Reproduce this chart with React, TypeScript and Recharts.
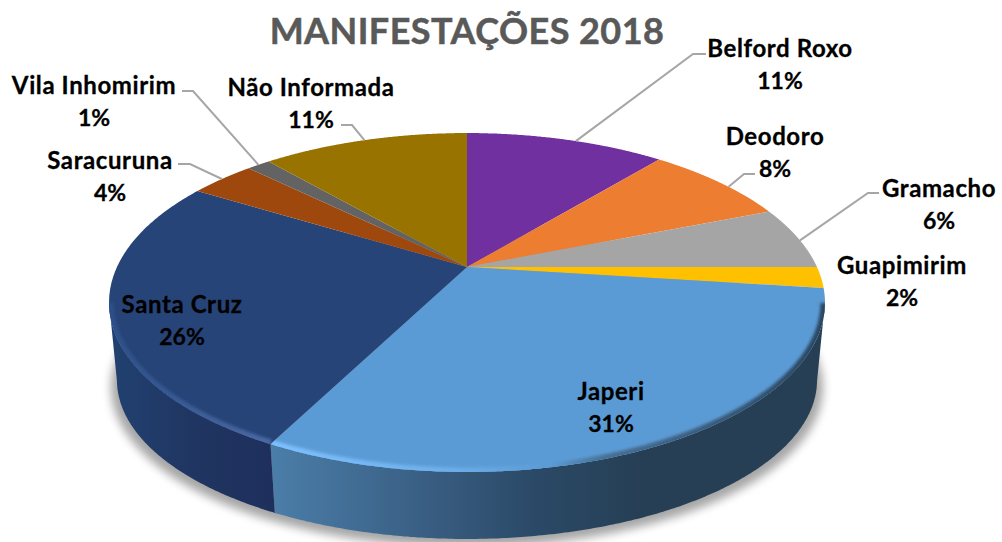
import { PieChart, Pie } from 'recharts';

const names = ['Belford Roxo', 'Deodoro', 'Gramacho', 'Guapimirim', 'Japeri', 'Santa Cruz', 'Saracuruna', 'Vila Inhomirim', 'Não Informada'];
const shares = [11, 8, 6, 2, 30.55, 26.15, 3.6, 1.3, 11.4];
const colors = ['#7030A0', '#ED7D31', '#A5A5A5', '#FFC000', '#5B9BD5', '#264478', '#9E480E', '#636363', '#997300'];

const data = names.map((name, i) => ({ name, value: shares[i], fill: colors[i] }));

// text block centre, and the elbow of the leader line (if any)
const labelSpots: Record<string, { x: number; y: number; elbow?: number[][]; nudge?: number }> = {
  'Belford Roxo': { x: 780, y: 47, elbow: [[693, 54], [706, 54]], nudge: 2 },
  Deodoro: { x: 775, y: 135, elbow: [[744, 174], [755, 174]], nudge: 2.5 },
  Gramacho: { x: 939, y: 187, elbow: [[868, 193], [879, 193]], nudge: 1 },
  Guapimirim: { x: 902, y: 264 },
  Japeri: { x: 611, y: 390 },
  'Santa Cruz': { x: 182, y: 303 },
  Saracuruna: { x: 110, y: 159, elbow: [[190, 164], [178, 164]] },
  'Vila Inhomirim': { x: 94, y: 84, elbow: [[193, 91], [182, 91]] },
  'Não Informada': { x: 311, y: 86, elbow: [[352, 125], [341, 125]] },
};

const FONT = 'Lato, "Open Sans", sans-serif';
const CX = 467;
const CY = 267;
const RADIUS = 350;
const SQUASH = 0.4629; // tilt of the disc
const K = 0.2095; // perspective strength

// circle -> tilted disc
function project(cx: number, cy: number, r: number, deg: number) {
  const a = (deg * Math.PI) / 180;
  const w = 1 / (1 + K * Math.sin(a));
  return [cx + r * Math.cos(a) * w, cy - r * SQUASH * Math.sin(a) * w];
}

// top rim -> bottom rim of the side wall
function drop(p: number[]) {
  return [CX + 0.978 * (p[0] - CX), 380 + 0.938 * (p[1] - 302.5)];
}

const toPath = (pts: number[][]) => pts.map((p, i) => `${i ? 'L' : 'M'}${p[0].toFixed(1)} ${p[1].toFixed(1)}`).join(' ');

const wallFill: Record<string, string> = { Japeri: 'url(#wallJaperi)', 'Santa Cruz': 'url(#wallSanta)' };
const rimStroke: Record<string, string> = { Japeri: 'url(#rimJaperi)', 'Santa Cruz': 'url(#rimSanta)' };

function DiscSlice(props: any) {
  const { cx, cy, outerRadius, startAngle, endAngle, fill, name } = props;
  const steps = 240;
  const rim: number[][] = [];
  const front: number[][] = [];
  for (let i = 0; i <= steps; i++) {
    const deg = startAngle + ((endAngle - startAngle) * i) / steps;
    const p = project(cx, cy, outerRadius, deg);
    rim.push(p);
    if (Math.sin((deg * Math.PI) / 180) < -K) front.push(p);
  }
  const clipId = `face-${name.replace(/\W/g, '')}`;
  const facePath = `M${cx} ${cy} ${toPath(rim).replace('M', 'L')} Z`;
  return (
    <g>
      {front.length > 1 && wallFill[name] && (
        <path d={`${toPath(front)} ${toPath(front.map(drop).reverse()).replace('M', 'L')} Z`} fill={wallFill[name]} />
      )}
      <path d={facePath} fill={fill} />
      {front.length > 1 && rimStroke[name] && (
        <g clipPath={`url(#${clipId})`}>
          <clipPath id={clipId}>
            <path d={facePath} />
          </clipPath>
          <path d={toPath(front)} fill="none" stroke={rimStroke[name]} strokeWidth={9} filter="url(#soft)" />
        </g>
      )}
    </g>
  );
}

function renderLabel(props: any) {
  const { cx, cy, outerRadius, midAngle, name, percent } = props;
  const spot = labelSpots[name];
  const line = spot.elbow ? [project(cx, cy, outerRadius, midAngle - (spot.nudge ?? 0)), ...spot.elbow] : null;
  return (
    <g>
      {line && <path d={toPath(line)} fill="none" stroke="#A6A6A6" strokeWidth={2} />}
      <text x={spot.x} y={spot.y} textAnchor="middle" dominantBaseline="central" fontFamily={FONT} fontWeight={700} fontSize={24} letterSpacing={0.6} stroke="#000" strokeWidth={0.3} fill="#000">
        {name}
      </text>
      <text x={spot.x} y={spot.y + 33} textAnchor="middle" dominantBaseline="central" fontFamily={FONT} fontWeight={700} fontSize={23} stroke="#000" strokeWidth={0.3} fill="#000">
        {Math.round(percent * 100)}%
      </text>
    </g>
  );
}

export default function App() {
  return (
    <div style={{ position: 'absolute', left: 0, top: 0, width: 1002, height: 542, background: '#fff' }}>
      <PieChart width={1002} height={542} margin={{ top: 0, right: 0, bottom: 0, left: 0 }}>
        <defs>
          <linearGradient id="wallJaperi" gradientUnits="userSpaceOnUse" x1={275} y1={0} x2={640} y2={0}>
            <stop offset="0" stopColor="#4A7DA8" />
            <stop offset="0.4" stopColor="#3A5F84" />
            <stop offset="0.7" stopColor="#2B4A68" />
            <stop offset="1" stopColor="#263F55" />
          </linearGradient>
          <linearGradient id="wallSanta" gradientUnits="userSpaceOnUse" x1={117} y1={0} x2={275} y2={0}>
            <stop offset="0" stopColor="#21406F" />
            <stop offset="0.5" stopColor="#203561" />
            <stop offset="1" stopColor="#1E2F5C" />
          </linearGradient>
          <linearGradient id="rimJaperi" gradientUnits="userSpaceOnUse" x1={275} y1={0} x2={825} y2={0}>
            <stop offset="0" stopColor="#7CC0FF" />
            <stop offset="0.3" stopColor="#6DB0EC" />
            <stop offset="0.5" stopColor="#5B9BD5" />
            <stop offset="0.6" stopColor="#476F94" />
            <stop offset="1" stopColor="#2A4660" />
          </linearGradient>
          <linearGradient id="rimSanta" gradientUnits="userSpaceOnUse" x1={108} y1={0} x2={275} y2={0}>
            <stop offset="0" stopColor="#2C4F88" />
            <stop offset="1" stopColor="#4A6AA6" />
          </linearGradient>
          <filter id="soft" x="-10%" y="-10%" width="120%" height="120%">
            <feGaussianBlur stdDeviation="1.8" />
          </filter>
          <filter id="shadowBlur" x="-10%" y="-10%" width="120%" height="120%">
            <feGaussianBlur stdDeviation="5" />
          </filter>
        </defs>
        <ellipse cx={CX} cy={387} rx={356} ry={160} fill="#000" opacity={0.35} filter="url(#shadowBlur)" />
        <text x={CX} y={30} textAnchor="middle" dominantBaseline="central" fontFamily={FONT} fontWeight={700} fontSize={36} letterSpacing={0.45} stroke="#595959" strokeWidth={0.5} fill="#595959">
          MANIFESTAÇÕES 2018
        </text>
        <Pie
          data={data}
          dataKey="value"
          nameKey="name"
          cx={CX}
          cy={CY}
          outerRadius={RADIUS}
          startAngle={90}
          endAngle={-270}
          paddingAngle={0}
          stroke="none"
          isAnimationActive={false}
          shape={DiscSlice}
          label={renderLabel}
          labelLine={false}
        />
      </PieChart>
    </div>
  );
}
